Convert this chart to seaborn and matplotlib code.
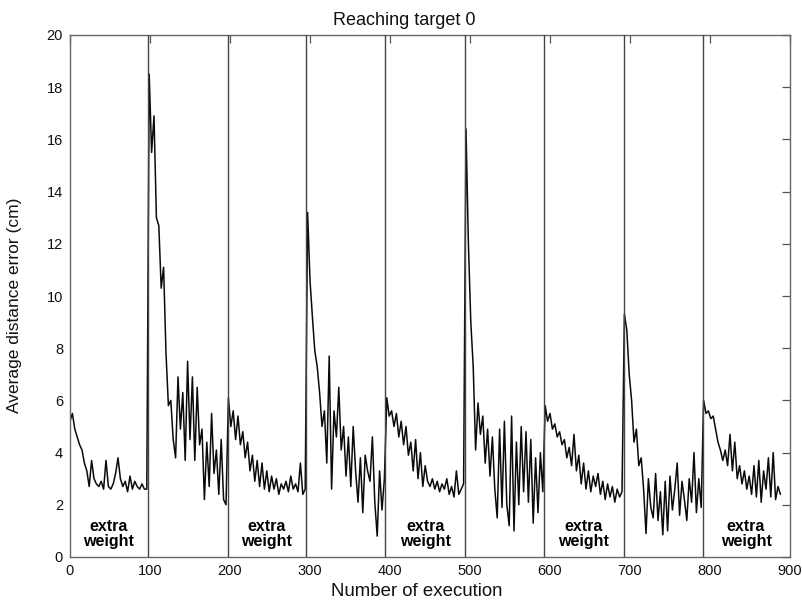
import numpy as np
import pandas as pd
import matplotlib
matplotlib.use("Agg")
import matplotlib.pyplot as plt
import seaborn as sns

# ---- data (one value every 3 executions) ----
seg1 = [5.2, 5.5, 4.9, 4.6, 4.3, 4.1, 3.6, 3.3, 2.7, 3.7, 3.0, 2.8, 2.7, 2.9, 2.6, 3.7,
        2.7, 2.6, 2.8, 3.2, 3.8, 3.0, 2.7, 2.9, 2.5, 3.1, 2.6, 2.9, 2.7, 2.6, 2.8, 2.6, 2.6]
seg2 = [18.5, 15.5, 16.9, 13.0, 12.7, 10.3, 11.1, 7.8, 5.8, 6.0, 4.5, 3.8, 6.9, 4.9, 6.3, 3.7,
        7.5, 4.5, 6.9, 3.7, 6.5, 4.3, 4.9, 2.2, 4.4, 2.7, 5.5, 3.2, 4.1, 2.4, 4.5, 2.2, 2.0]
seg3 = [6.1, 5.0, 5.6, 4.5, 5.4, 4.3, 4.8, 3.8, 4.4, 3.3, 3.9, 2.9, 3.7, 2.7, 3.6, 2.6,
        3.3, 2.5, 3.1, 2.6, 3.0, 2.4, 2.8, 2.6, 2.9, 2.5, 3.1, 2.6, 2.8, 2.5, 3.6, 2.4, 2.6]
seg4 = [13.2, 10.6, 9.2, 7.9, 7.3, 6.3, 5.0, 5.6, 3.6, 7.7, 2.6, 5.6, 4.6, 6.5, 4.1, 5.0,
        3.1, 4.6, 2.7, 5.0, 3.3, 2.1, 3.8, 1.7, 3.9, 3.3, 2.9, 4.6, 2.1, 0.8, 3.3, 1.8, 3.0]
seg5 = [6.1, 5.4, 5.6, 5.0, 5.5, 4.6, 5.2, 4.3, 5.0, 3.9, 4.4, 3.3, 4.5, 3.0, 4.0, 2.7,
        3.5, 2.9, 2.7, 3.0, 2.6, 2.9, 2.5, 2.8, 2.6, 3.0, 2.4, 2.7, 2.3, 3.3, 2.4, 2.6, 2.8]
seg6 = [16.4, 12.0, 9.0, 7.3, 4.1, 5.9, 4.7, 5.4, 3.6, 4.9, 3.1, 4.6, 2.6, 1.5, 4.9, 1.9,
        5.2, 2.0, 1.2, 5.4, 1.0, 4.4, 2.0, 5.0, 2.5, 4.8, 2.1, 4.5, 1.3, 3.8, 1.7, 4.0, 2.5]
seg7 = [5.8, 5.2, 5.5, 4.9, 5.1, 4.6, 4.8, 4.3, 4.5, 3.8, 4.2, 3.5, 4.7, 3.3, 3.9, 2.8,
        3.6, 2.6, 3.3, 2.5, 3.1, 2.7, 3.2, 2.4, 2.9, 2.2, 2.8, 2.3, 2.7, 2.1, 2.6, 2.3, 2.5]
seg8 = [9.3, 8.7, 7.0, 6.0, 4.4, 4.9, 3.5, 3.8, 2.6, 0.9, 3.0, 1.9, 1.5, 3.2, 1.4, 2.5,
        0.85, 2.9, 1.0, 3.1, 1.8, 2.6, 3.6, 1.6, 2.9, 2.2, 1.4, 3.0, 2.1, 4.0, 1.7, 3.0, 1.9]
seg9 = [6.0, 5.5, 5.6, 5.3, 5.4, 4.9, 4.4, 4.1, 3.7, 4.1, 3.5, 4.7, 3.3, 4.4, 3.0, 3.5,
        2.8, 3.3, 2.6, 3.1, 2.4, 3.5, 2.3, 3.7, 2.1, 3.3, 2.6, 3.8, 2.3, 4.0, 2.2, 2.7, 2.4]

step = 3
boundaries = [97, 197, 295, 394, 494, 592, 692, 791]
label_x = [48, 246, 444, 642, 845]
label_text = "extra\nweight"
x_ticks = [0, 100, 200, 300, 400, 500, 600, 700, 800, 900]
y_ticks = [0, 2, 4, 6, 8, 10, 12, 14, 16, 18, 20]

errors = seg1 + seg2 + seg3 + seg4 + seg5 + seg6 + seg7 + seg8 + seg9
df = pd.DataFrame({"execution": np.arange(len(errors)) * step, "error": errors})

# ---- style ----
sns.set_theme(style="white")
plt.rcParams["font.family"] = ["Liberation Sans", "DejaVu Sans"]

fig = plt.figure(figsize=(8.02, 6.01), dpi=100)
ax = fig.add_axes([70 / 802, 44 / 601, 720 / 802, 522 / 601])

sns.lineplot(data=df, x="execution", y="error", ax=ax, color="#0a0a0a",
             linewidth=1.1, estimator=None, sort=False)

for b in boundaries:
    ax.axvline(b, color="#444444", linewidth=1.0, zorder=3)

for lx in label_x:
    ax.text(lx, 0.88, label_text, ha="center", va="center", fontsize=11.5,
            fontweight="bold", linespacing=1.0, color="black")

ax.set_xlim(0, 900)
ax.set_ylim(0, 20)
ax.set_xticks(x_ticks)
ax.set_yticks(y_ticks)
ax.tick_params(direction="in", length=6, width=0.9, colors="#555555",
               labelcolor="#111111", labelsize=10.5, top=True, right=True,
               pad=5)
for s in ax.spines.values():
    s.set_color("#666666")
    s.set_linewidth(1.0)

ax.set_title("Reaching target 0", x=0.464, pad=7, fontsize=13, color="#111111")
ax.set_xlabel("Number of execution", fontsize=13.4, color="#111111", va="top")
ax.xaxis.set_label_coords(0.482, -0.049)
ax.set_ylabel("Average distance error (cm)", fontsize=12.5, color="#111111")
ax.yaxis.set_label_coords(-0.066, 0.483)

fig.savefig("out.png", dpi=100)
